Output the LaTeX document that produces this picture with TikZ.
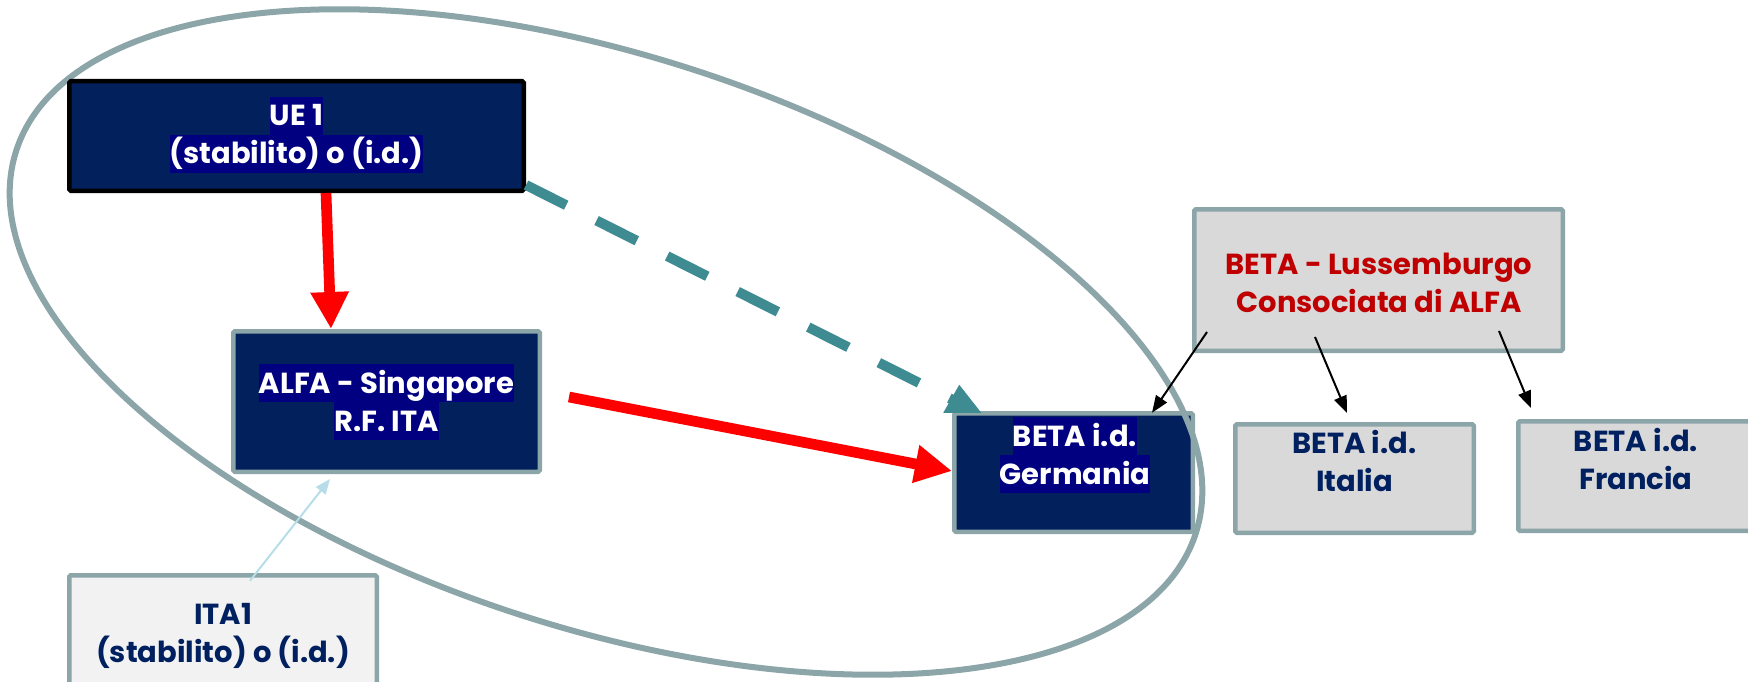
\documentclass[tikz,border=0pt]{standalone}
\usepackage{fontspec}
\setmainfont{Poppins}
\usetikzlibrary{arrows.meta}
\definecolor{boxnavy}{RGB}{2,32,91}
\definecolor{hlnavy}{RGB}{0,0,128}
\definecolor{bordergrey}{RGB}{140,165,168}
\definecolor{greyfill}{RGB}{217,217,217}
\definecolor{palefill}{RGB}{242,242,242}
\definecolor{tealline}{RGB}{62,139,146}
\definecolor{txtnavy}{RGB}{0,32,96}
\definecolor{txtred}{RGB}{192,0,0}
\definecolor{paleblue}{RGB}{183,222,232}
\newcommand{\hlline}[1]{{\setlength{\fboxsep}{0pt}\colorbox{hlnavy}{\rule[-9pt]{0pt}{38pt}#1}}}
\newcommand{\plline}[1]{{\rule[-9pt]{0pt}{38pt}#1}}
\tikzset{
  boxbase/.style={rectangle, inner sep=0pt, line width=4.5pt, rounded corners=1.5pt},
  darkbox/.style={boxbase, draw=bordergrey, fill=boxnavy},
  blackbox/.style={boxbase, draw=black, fill=boxnavy},
  greybox/.style={boxbase, draw=bordergrey, fill=greyfill},
  palebox/.style={boxbase, draw=bordergrey, fill=palefill},
  lbl/.style={inner sep=0pt, align=center, font=\fontsize{29}{38}\selectfont\bfseries},
  whitelbl/.style={lbl, text=white},
  navylbl/.style={lbl, text=txtnavy},
  redlbl/.style={lbl, text=txtred},
  redarrow/.style={draw=red, line width=10.7pt, -{Triangle[length=37pt,width=36pt]}},
  tealdash/.style={draw=tealline, line width=10pt, dash pattern=on 45pt off 34pt},
  thinblack/.style={draw=black, line width=2pt, -{Triangle[length=17pt,width=13pt]}},
  paleline/.style={draw=paleblue, line width=2pt, -{Triangle[length=15pt,width=12pt]}},
  ring/.style={draw=bordergrey, line width=6pt}
}
\begin{document}
\begin{tikzpicture}[x=1pt,y=-1pt]
\useasboundingbox (0,0) rectangle (1748,682);
\clip (0,0) rectangle (1748,682);
% Germania box (under the ellipse)
\node[darkbox, minimum width=238.5pt, minimum height=118.5pt] (germ) at (1073.5,472.5) {};
\node[whitelbl] (germt) at (1075,455) {\hlline{BETA i.d.}\\\hlline{Germania}};
% ellipse
\draw[ring, rotate around={-18:(606,342)}] (606,342) ellipse [x radius=620, y radius=286];
% other boxes
\node[blackbox, minimum width=454.5pt, minimum height=109.5pt] (ue1) at (296.5,136) {};
\node[whitelbl] (ue1t) at (296.5,135) {\hlline{UE 1}\\\hlline{(stabilito) o (i.d.)}};
\node[darkbox, minimum width=306.5pt, minimum height=140.5pt] (alfa) at (386.5,401.5) {};
\node[whitelbl] (alfat) at (386.5,402) {\hlline{ALFA - Singapore}\\\hlline{R.F. ITA}};
\node[greybox, minimum width=368.5pt, minimum height=141.5pt] (lux) at (1378.5,280) {};
\node[redlbl] (luxt) at (1379,283) {\plline{BETA - Lussemburgo}\\\plline{Consociata di ALFA}};
\node[greybox, minimum width=238.5pt, minimum height=108.5pt] (ital) at (1354.5,478.5) {};
\node[navylbl] (italt) at (1354.5,462) {\plline{BETA i.d.}\\\plline{Italia}};
\node[greybox, minimum width=235.5pt, minimum height=109.5pt] (fran) at (1636,476) {};
\node[navylbl] (frant) at (1636,460) {\plline{BETA i.d.}\\\plline{Francia}};
\node[palebox, minimum width=307.5pt, minimum height=135.5pt] (ita1) at (223,643) {};
\node[navylbl] (ita1t) at (223,633) {\plline{ITA1}\\\plline{(stabilito) o (i.d.)}};
% connectors
\draw[redarrow] ([xshift=29.5pt]ue1.south) -- ([xshift=-55.5pt]alfa.north);
\draw[redarrow] ([shift={(27,-4.5)}]alfa.east) -- ([yshift=1.5pt]germ.west);
\draw[tealdash] ([yshift=8pt]ue1.south east) -- ([shift={(1,-11)}]germ.north west);
\fill[tealline] ([shift={(-8.75,1.75)}]germ.north west) -- ([shift={(7.25,-26.25)}]germ.north west) -- ([shift={(29.25,1.75)}]germ.north west) -- cycle;
\draw[paleline] ([shift={(27,7.75)}]ita1.north) -- ([shift={(-56.5,5)}]alfa.south);
\draw[thinblack] ([shift={(15,-21)}]lux.south west) -- ([shift={(-43,1.75)}]germ.north east);
\draw[thinblack] ([shift={(-63.5,-16)}]lux.south) -- ([shift={(-7.5,-9)}]ital.north);
\draw[thinblack] ([shift={(120.5,-22)}]lux.south) -- ([shift={(-105,-11)}]fran.north);
\end{tikzpicture}
\end{document}
